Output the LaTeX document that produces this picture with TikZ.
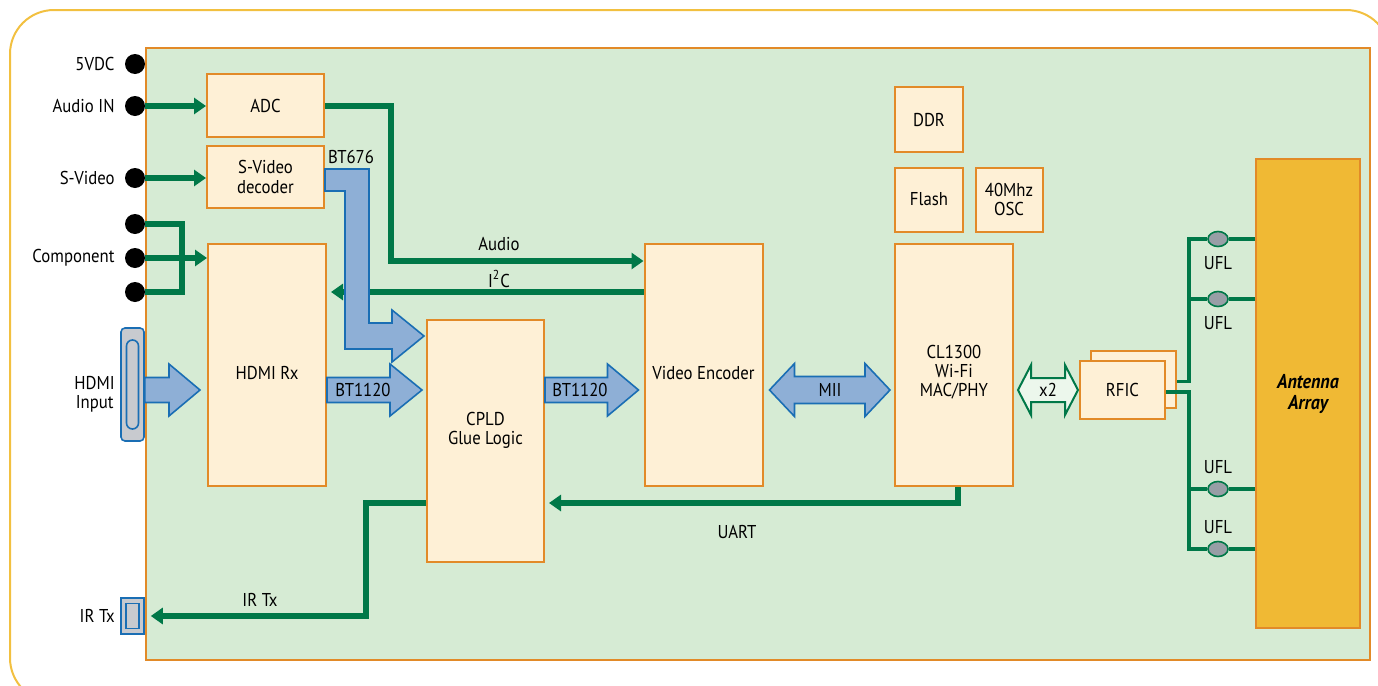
\documentclass[tikz,border=0pt]{standalone}
\usepackage{fontspec}
\setmainfont{PT Sans}[FakeStretch=0.9]
\usetikzlibrary{shapes.geometric,arrows.meta,positioning,calc}
\definecolor{boardfill}{RGB}{214,235,212}
\definecolor{edgeorange}{RGB}{226,138,40}
\definecolor{boxfill}{RGB}{254,240,214}
\definecolor{antfill}{RGB}{240,185,52}
\definecolor{framecol}{RGB}{242,192,64}
\definecolor{sigcol}{RGB}{0,120,72}
\definecolor{busfill}{RGB}{142,175,214}
\definecolor{busedge}{RGB}{26,110,180}
\definecolor{plug}{RGB}{200,202,207}
\definecolor{uflgray}{RGB}{152,158,166}
\definecolor{linkfill}{RGB}{236,247,236}
\tikzstyle{blk}=[rectangle,draw=edgeorange,fill=boxfill,line width=1pt,align=center,inner sep=0pt]
\tikzstyle{pin}=[circle,fill=black,inner sep=0pt,minimum size=10pt]
\tikzstyle{plugbox}=[rectangle,draw=busedge,fill=plug,line width=0.8pt,rounded corners=2pt,inner sep=0pt]
\tikzstyle{sig}=[sigcol,line width=3pt,-{Triangle[length=6pt,width=8pt]}]
\tikzstyle{wire}=[sigcol,line width=3pt]
\tikzstyle{rfwire}=[sigcol,line width=1.8pt]
\tikzstyle{ufl}=[ellipse,draw=sigcol,fill=uflgray,line width=0.8pt,minimum width=10pt,minimum height=7.5pt,inner sep=0pt]
\tikzstyle{fat}=[draw=busedge,fill=busfill,line width=0.8pt]
\tikzstyle{link}=[draw=sigcol,fill=linkfill,line width=1pt]
% wide arrow pointing right: start, tip, half shaft, half head, head length
\newcommand{\fatR}[5]{\draw[fat] let \p1=(#1),\p2=(#2) in
  (\x1,\y1+#3) -- (\x2-#5,\y1+#3) -- (\x2-#5,\y1+#4) -- (\x2,\y1) -- (\x2-#5,\y1-#4) -- (\x2-#5,\y1-#3) -- (\x1,\y1-#3) -- cycle;}
% wide arrow with two heads: style, left tip, right tip, half shaft, half head, head length
\newcommand{\fatLR}[6]{\draw[#1] let \p1=(#2),\p2=(#3) in
  (\x1,\y1) -- (\x1+#6,\y1+#5) -- (\x1+#6,\y1+#4) -- (\x2-#6,\y1+#4) -- (\x2-#6,\y1+#5) -- (\x2,\y1) -- (\x2-#6,\y1-#5) -- (\x2-#6,\y1-#4) -- (\x1+#6,\y1-#4) -- (\x1+#6,\y1-#5) -- cycle;}
\begin{document}
\begin{tikzpicture}[x=0.5pt,y=-0.5pt,node distance=40pt,font=\fontsize{9.3}{9.6}\selectfont]
\useasboundingbox (0,0) rectangle (1378,686);
\draw[framecol,line width=1pt,rounded corners=22pt] (10,10) rectangle (1390,702);
\draw[edgeorange,fill=boardfill,line width=1pt] (146,48) rectangle (1370,660);
\coordinate (vrow) at (0,390);

% inputs on the left edge
\node[pin,label={[label distance=1.5pt]left:5VDC}] (V5) at (135,64) {};
\node[pin,label={[label distance=1.5pt]left:Audio IN}] (AIN) at (135,106) {};
\node[pin,label={[label distance=1.5pt]left:S-Video}] (SVIN) at (135,178) {};
\node[pin] (C1) at (135,224) {};
\node[pin,label={[label distance=1.5pt]left:Component}] (C2) at (135,258) {};
\node[pin] (C3) at (135,292) {};
\node[plugbox,minimum width=11.5pt,minimum height=56.5pt] (HDMIC) at (132.5,384.5) {};
\node[plugbox,rounded corners=3pt,minimum width=6pt,minimum height=44.5pt] (HDMIslot) at (HDMIC.center) {};
\node[align=center,inner sep=0pt,left=2.5pt of HDMIC,yshift=-5pt] (lHDMI) {HDMI\\Input};
\node[plugbox,rounded corners=0pt,minimum width=11.5pt,minimum height=18pt] (IRC) at (132.5,616) {};
\node[plugbox,rounded corners=0pt,minimum width=6.5pt,minimum height=12.5pt] (IRslot) at (IRC.center) {};
\node[inner sep=0pt,left=2.5pt of IRC] (lIRC) {IR Tx};

% blocks
\node[blk,minimum width=58.5pt,minimum height=31.5pt] (ADC) at (265.5,105.5) {ADC};
\node[blk,minimum width=58.5pt,minimum height=31pt] (SVD) at (265.5,177) {S-Video\\decoder};
\node[blk,minimum width=59pt,minimum height=121pt,label={[yshift=-4pt]center:HDMI Rx}] (HDMI) at (267,365) {};
\node[blk,minimum width=58.5pt,minimum height=121pt,label={[align=center,yshift=5.5pt]center:CPLD\\Glue Logic}] (CPLD) at (485.5,441) {};
\node[blk,minimum width=59pt,minimum height=121pt,label={[yshift=-4pt]center:Video Encoder}] (VE) at (703.5,365) {};
\node[blk,minimum width=59pt,minimum height=121pt,label={[align=center,yshift=-3.5pt]center:CL1300\\Wi-Fi\\MAC/PHY}] (WIFI) at (954,365) {};
\node[blk,minimum width=34pt,minimum height=32.5pt] (DDR) at (929,119.5) {DDR};
\node[blk,minimum width=34pt,minimum height=32pt,below of=DDR] (FLASH) {Flash};
\node[blk,minimum width=33.5pt,minimum height=32pt,right of=FLASH] (OSC) {40Mhz\\OSC};
\node[blk,minimum width=42.5pt,minimum height=28.5pt] (RFICb) at (1133.5,379.5) {};
\node[blk,minimum width=42.5pt,minimum height=29pt] (RFIC) at (1122.5,390) {RFIC};
\node[blk,fill=antfill,minimum width=52pt,minimum height=234.5pt,font=\fontsize{10}{10.5}\selectfont\bfseries\itshape] (ANT) at (1308,393.5) {Antenna\\Array};

% green signal lines
\draw[sig] (AIN.east) -- (AIN -| ADC.west);
\draw[sig] (SVIN.east) -- (SVIN -| SVD.west);
\draw[wire] (C1.east) -- ++(37,0) |- (C3.east);
\draw[sig] (C2.east) -- (C2 -| HDMI.west);
\draw[sig] (ADC.east) -- ++(66,0) |- ($(VE.north west)+(0,18)$);
\draw[sig] ($(VE.north west)+(0,49)$) -- ($(HDMI.north east)+(4,49)$);
\draw[sig] ($(WIFI.south)+(4,0)$) |- ($(CPLD.north east)+(4,184)$);
\draw[sig] ($(CPLD.north west)+(0,184)$) -- ++(-60,0) |- ($(IRC.east)+(6,0)$);

% RF side
\node[ufl] (U1) at (1218,239) {};
\node[ufl] (U2) at (1218,299) {};
\node[ufl] (U3) at (1218,489) {};
\node[ufl] (U4) at (1218,549) {};
\draw[rfwire] ($(RFICb.east)+(0,2)$) -- ++(12,0) coordinate (jup) |- (U1.west);
\draw[rfwire] (jup |- U2) -- (U2.west);
\draw[rfwire] ($(RFIC.east)+(0,2)$) -- ++(23,0) coordinate (jdn) |- (U4.west);
\draw[rfwire] (jdn |- U3) -- (U3.west);
\draw[rfwire] (U1.east) -- (U1 -| ANT.west);
\draw[rfwire] (U2.east) -- (U2 -| ANT.west);
\draw[rfwire] (U3.east) -- (U3 -| ANT.west);
\draw[rfwire] (U4.east) -- (U4 -| ANT.west);
\node (lU1) at (1218,263) {UFL};
\node (lU2) at (1218,323) {UFL};
\node (lU3) at (1218,467) {UFL};
\node (lU4) at (1218,527) {UFL};

% wide bus arrows
\draw[fat] let \p1=(SVD.east), \p2=($(CPLD.north west)+(-2,17)$) in
  (\x1,\y1+4pt) -- (\x1+22pt,\y1+4pt) -- (\x1+22pt,\y2+6.5pt) -- (\x2-16pt,\y2+6.5pt) -- (\x2-16pt,\y2+13pt) -- (\x2,\y2)
  -- (\x2-16pt,\y2-13pt) -- (\x2-16pt,\y2-6.5pt) -- (\x1+10pt,\y2-6.5pt) -- (\x1+10pt,\y1-7pt) -- (\x1,\y1-7pt) -- cycle;
\fatR{HDMIC.east |- vrow}{$(HDMI.west |- vrow)+(-7,0)$}{6.25pt}{13pt}{15.5pt}
\fatR{HDMI.east |- vrow}{$(CPLD.west |- vrow)+(-4,0)$}{6.25pt}{13pt}{16pt}
\fatR{CPLD.east |- vrow}{$(VE.west |- vrow)+(-5,0)$}{6.25pt}{13pt}{15.5pt}
\fatLR{fat}{$(VE.east |- vrow)+(6,0)$}{$(WIFI.west |- vrow)+(-4,0)$}{6.75pt}{13.25pt}{12.5pt}
\fatLR{link}{$(WIFI.east |- vrow)+(4,0)$}{$(RFIC.west |- vrow)+(-1,0)$}{6pt}{12.5pt}{6.5pt}

% signal labels
\node (lBT676) at (351,157) {BT676};
\node (lBT1) at (363,390) {BT1120};
\node (lBT2) at (580,390) {BT1120};
\node (lMII) at (830,390) {MII};
\node (lx2) at (1048,390) {x2};
\node (lAudio) at (499,244) {Audio};
\node (lI2C) at (499,279) {I\textsuperscript{2}C};
\node (lUART) at (737,532) {UART};
\node (lIR) at (260,600) {IR Tx};
\end{tikzpicture}
\end{document}
